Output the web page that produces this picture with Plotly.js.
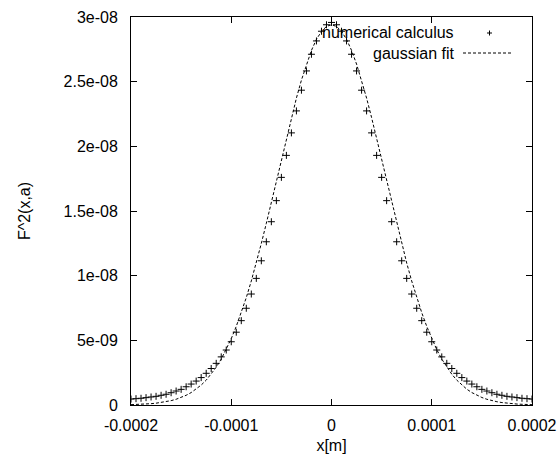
<!DOCTYPE html>
<html>
<head>
<meta charset="utf-8">
<script src="https://cdn.plot.ly/plotly-3.0.1.min.js"></script>
<style>html,body{margin:0;padding:0;background:#fff;}#chart{width:559px;height:458px;}</style>
</head>
<body>
<div id="chart"></div>
<script>
// x positions in micrometres (converted to metres below)
var xMicro = [-200,-195,-190,-185,-180,-175,-170,-165,-160,-155,-150,-145,-140,-135,-130,-125,-120,-115,-110,-105,-100,-95,-90,-85,-80,-75,-70,-65,-60,-55,-50,-45,-40,-35,-30,-25,-20,-15,-10,-5,0,5,10,15,20,25,30,35,40,45,50,55,60,65,70,75,80,85,90,95,100,105,110,115,120,125,130,135,140,145,150,155,160,165,170,175,180,185,190,195,200];
// numerical calculus values in units of 1e-9
var numericalNano = [0.46,0.49,0.52,0.57,0.62,0.67,0.75,0.83,0.95,1.08,1.21,1.41,1.62,1.85,2.12,2.45,2.82,3.22,3.72,4.25,4.89,5.63,6.52,7.48,8.58,9.79,11.15,12.62,14.17,15.8,17.6,19.3,21.04,22.74,24.34,25.83,27.12,28.15,28.9,29.4,29.58,29.4,28.9,28.15,27.12,25.83,24.34,22.74,21.04,19.3,17.6,15.8,14.17,12.62,11.15,9.79,8.58,7.48,6.52,5.63,4.89,4.25,3.72,3.22,2.82,2.45,2.12,1.85,1.62,1.41,1.21,1.08,0.95,0.83,0.75,0.67,0.62,0.57,0.52,0.49,0.46];
// gaussian fit curve values in units of 1e-9
var gaussNano = [0.027,0.038,0.054,0.074,0.102,0.140,0.189,0.253,0.336,0.443,0.58,0.75,0.96,1.22,1.54,1.92,2.38,2.92,3.55,4.28,5.13,6.08,7.14,8.30,9.59,10.98,12.49,14.05,15.68,17.33,18.99,20.63,22.22,23.73,25.12,26.36,27.42,28.27,28.89,29.27,29.40,29.27,28.89,28.27,27.42,26.36,25.12,23.73,22.22,20.63,18.99,17.33,15.68,14.05,12.49,10.98,9.59,8.30,7.14,6.08,5.13,4.28,3.55,2.92,2.38,1.92,1.54,1.22,0.96,0.75,0.58,0.443,0.336,0.253,0.189,0.140,0.102,0.074,0.054,0.038,0.027];
var xTickVals = [-0.0002,-0.0001,0,0.0001,0.0002];
var xTickText = ["-0.0002","-0.0001","0","0.0001","0.0002"];
var yTickVals = [0,5e-9,1e-8,1.5e-8,2e-8,2.5e-8,3e-8];
var yTickText = ["0","5e-09","1e-08","1.5e-08","2e-08","2.5e-08","3e-08"];
var legendNames = ["numerical calculus","gaussian fit"];

var xs = xMicro.map(function(v){return v*1e-6;});
var yNum = numericalNano.map(function(v){return v*1e-9;});
var yFit = gaussNano.map(function(v){return v*1e-9;});

var FONT = "Liberation Sans, Arial, Helvetica, sans-serif";

var traces = [
  {x: xs, y: yFit, type: 'scatter', mode: 'lines', name: legendNames[1],
   line: {color: '#000', width: 1, dash: '3px,2px'}, hoverinfo: 'skip'},
  {x: xs, y: yNum, type: 'scatter', mode: 'markers', name: legendNames[0],
   marker: {symbol: 'cross-thin', size: 5, line: {color: '#000', width: 1}, color: '#000'}}
];

var layout = {
  width: 559, height: 458,
  margin: {l: 131, r: 27, t: 17, b: 53},
  paper_bgcolor: '#fff', plot_bgcolor: '#fff',
  showlegend: false,
  font: {family: FONT, size: 16, color: '#000'},
  xaxis: {
    range: [-0.0002, 0.0002], tickvals: xTickVals, ticktext: xTickText,
    ticks: 'inside', ticklen: 6, tickcolor: '#000', tickwidth: 1,
    showline: true, linecolor: '#000', linewidth: 1, mirror: 'ticks',
    showgrid: false, zeroline: false, ticklabelstandoff: 6,
    title: {text: 'x[m]', font: {family: FONT, size: 16}, standoff: 6}
  },
  yaxis: {
    range: [0, 3e-8], tickvals: yTickVals, ticktext: yTickText,
    ticks: 'inside', ticklen: 6, tickcolor: '#000', tickwidth: 1,
    showline: true, linecolor: '#000', linewidth: 1, mirror: 'ticks',
    showgrid: false, zeroline: false, ticklabelstandoff: 9,
    title: {text: 'F^2(x,a)', font: {family: FONT, size: 16}, standoff: 28}
  },
  annotations: [
    {xref: 'paper', yref: 'paper', x: (456-131)/401, y: (405-33)/388, xanchor: 'right', yanchor: 'middle',
     text: legendNames[0], showarrow: false, font: {family: FONT, size: 16, color: '#000'}},
    {xref: 'paper', yref: 'paper', x: (456-131)/401, y: (405-53)/388, xanchor: 'right', yanchor: 'middle',
     text: legendNames[1], showarrow: false, font: {family: FONT, size: 16, color: '#000'}}
  ],
  shapes: [
    {type: 'line', xref: 'paper', yref: 'paper', x0: (463-131)/401, x1: (512-131)/401,
     y0: (405-53)/388, y1: (405-53)/388, line: {color: '#000', width: 1, dash: '3px,2px'}},
    {type: 'line', xref: 'paper', yref: 'paper', x0: (487-131)/401, x1: (492-131)/401,
     y0: (405-33)/388, y1: (405-33)/388, line: {color: '#000', width: 1}},
    {type: 'line', xref: 'paper', yref: 'paper', x0: (489.5-131)/401, x1: (489.5-131)/401,
     y0: (405-30.5)/388, y1: (405-35.5)/388, line: {color: '#000', width: 1}}
  ]
};

Plotly.newPlot('chart', traces, layout, {displayModeBar: false, staticPlot: true});
</script>
</body>
</html>
